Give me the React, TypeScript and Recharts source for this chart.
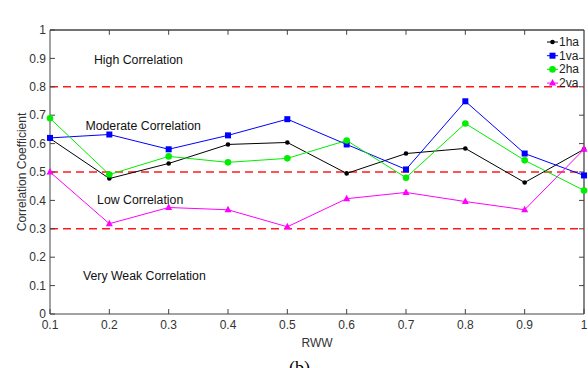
import { LineChart, Line, XAxis, YAxis, ReferenceLine, ReferenceDot } from "recharts";

const RWW = [0.1, 0.2, 0.3, 0.4, 0.5, 0.6, 0.7, 0.8, 0.9, 1];
const HA1 = [0.618, 0.477, 0.53, 0.597, 0.604, 0.495, 0.565, 0.583, 0.463, 0.58];
const VA1 = [0.62, 0.632, 0.58, 0.629, 0.686, 0.597, 0.509, 0.749, 0.565, 0.488];
const HA2 = [0.689, 0.491, 0.555, 0.534, 0.548, 0.611, 0.48, 0.671, 0.541, 0.435];
const VA2 = [0.5, 0.318, 0.375, 0.367, 0.307, 0.406, 0.428, 0.396, 0.367, 0.58];
const Y_TICKS = [0, 0.1, 0.2, 0.3, 0.4, 0.5, 0.6, 0.7, 0.8, 0.9, 1];
const THRESHOLDS = [0.8, 0.5, 0.3];
const ZONES = [
  { label: "High Correlation", x: 0.249, y: 0.897 },
  { label: "Moderate Correlation", x: 0.257, y: 0.664 },
  { label: "Low Correlation", x: 0.252, y: 0.403 },
  { label: "Very Weak Correlation", x: 0.259, y: 0.134 },
];

const data = RWW.map((x, i) => ({ x, ha1: HA1[i], va1: VA1[i], ha2: HA2[i], va2: VA2[i] }));

const FONT = "Liberation Sans, Arial, sans-serif";
const AXIS = "#444";
const TICK = { fill: "#333", fontSize: 12, fontFamily: FONT };

const fmt = (v: number) => (v === 0 || v === 1 ? String(v) : v.toFixed(1));

function Square(props: any) {
  const { cx, cy, fill } = props;
  if (cx == null || cy == null) return null;
  return <rect x={cx - 3} y={cy - 3} width={6} height={6} fill={fill} />;
}

function Triangle(props: any) {
  const { cx, cy, fill } = props;
  if (cx == null || cy == null) return null;
  return <polygon points={`${cx},${cy - 4} ${cx - 3.5},${cy + 2.5} ${cx + 3.5},${cy + 2.5}`} fill={fill} />;
}

function Circle(r: number) {
  return (props: any) => {
    const { cx, cy, fill } = props;
    if (cx == null || cy == null) return null;
    return <circle cx={cx} cy={cy} r={r} fill={fill} />;
  };
}

const SERIES = [
  { key: "ha1", name: "1ha", color: "#000000", dot: Circle(2.3) },
  { key: "va1", name: "1va", color: "#0000ff", dot: Square },
  { key: "ha2", name: "2ha", color: "#00ee00", dot: Circle(3.3) },
  { key: "va2", name: "2va", color: "#ff00ff", dot: Triangle },
];

function LegendBox() {
  return (
    <svg width={42} height={56} style={{ display: "block" }}>
      {SERIES.map((s, i) => {
        const y = 7 + i * 13.7;
        const D = s.dot;
        return (
          <g key={s.key}>
            <line x1={1} x2={12} y1={y} y2={y} stroke={s.color} strokeWidth={1} />
            <D cx={6.5} cy={y} fill={s.color} />
            <text x={13} y={y + 4} fontSize={12} fontFamily={FONT} fill="#222">
              {s.name}
            </text>
          </g>
        );
      })}
    </svg>
  );
}

export default function App() {
  return (
    <div style={{ position: "absolute", left: 0, top: 0, width: 588, height: 368, background: "#fff", overflow: "hidden" }}>
      <LineChart width={588} height={368} data={data} margin={{ top: 30, right: 4, bottom: 24, left: 0 }}>
        <XAxis
          dataKey="x"
          type="number"
          domain={[0.1, 1]}
          ticks={RWW}
          tickFormatter={fmt}
          tick={TICK}
          stroke={AXIS}
          tickSize={-5}
          tickMargin={11}
          height={30}
          label={{ value: "RWW", position: "insideBottom", offset: -3, style: { fontSize: 12, fontFamily: FONT, fill: "#333" } }}
        />
        <YAxis
          domain={[0, 1]}
          ticks={Y_TICKS}
          tickFormatter={fmt}
          tick={TICK}
          stroke={AXIS}
          tickSize={-5}
          tickMargin={9}
          width={50}
          label={{
            value: "Correlation Coefficient",
            content: (p: any) => (
              <text
                x={0}
                y={0}
                transform={`translate(26, ${p.viewBox.y + p.viewBox.height / 2}) rotate(-90)`}
                textAnchor="middle"
                fontSize={12}
                fontFamily={FONT}
                fill="#333"
              >
                Correlation Coefficient
              </text>
            ),
          }}
        />
        {/* box: top and right edges */}
        <ReferenceLine y={1} stroke={AXIS} strokeWidth={1.3} ifOverflow="visible" />
        <ReferenceLine x={1} stroke={AXIS} strokeWidth={1.3} ifOverflow="visible" />
        {RWW.slice(1, -1).map((v) => (
          <ReferenceLine
            key={"t" + v}
            segment={[
              { x: v, y: 1 },
              { x: v, y: 0.983 },
            ]}
            stroke={AXIS}
            strokeWidth={1}
            ifOverflow="visible"
          />
        ))}
        {Y_TICKS.slice(1, -1).map((v) => (
          <ReferenceLine
            key={"r" + v}
            segment={[
              { x: 0.9916, y: v },
              { x: 1, y: v },
            ]}
            stroke={AXIS}
            strokeWidth={1}
            ifOverflow="visible"
          />
        ))}
        {THRESHOLDS.map((t) => (
          <ReferenceLine key={t} y={t} stroke="#ff1a1a" strokeWidth={1.5} strokeDasharray="8 5" />
        ))}
        {ZONES.map((z) => (
          <ReferenceDot
            key={z.label}
            x={z.x}
            y={z.y}
            r={0}
            stroke="none"
            fill="none"
            label={{ value: z.label, position: "center", style: { fontSize: 12.3, fontFamily: FONT, fill: "#111" } }}
          />
        ))}
        {SERIES.map((s) => (
          <Line
            key={s.key}
            dataKey={s.key}
            name={s.name}
            stroke={s.color}
            fill={s.color}
            strokeWidth={1}
            dot={s.dot}
            activeDot={false}
            isAnimationActive={false}
          />
        ))}
      </LineChart>
      <div style={{ position: "absolute", left: 546, top: 35 }}>
        <LegendBox />
      </div>
      <div style={{ position: "absolute", left: 289, top: 358, fontSize: 18, lineHeight: "20px", fontFamily: "Liberation Serif, serif" }}>(b)</div>
    </div>
  );
}
